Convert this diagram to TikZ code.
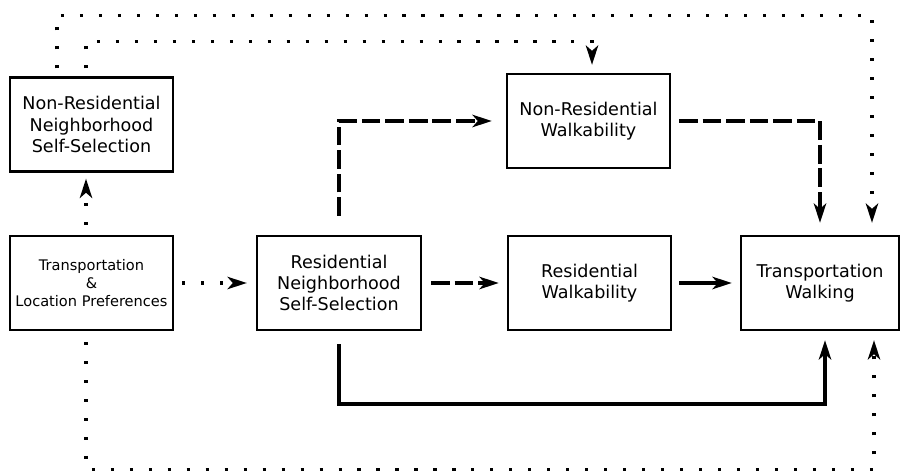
\documentclass[tikz,border=0pt]{standalone}
\usepackage{fontspec}
\setmainfont{DejaVu Sans}
\usepackage{tikz}
\usetikzlibrary{arrows.meta,positioning}

\tikzset{
  box/.style={draw, line width=1.3pt, minimum width=3.26cm, minimum height=1.88cm,
    align=center, inner sep=2pt, font=\fontsize{10}{12.2}\selectfont},
  arrowtip/.style={-{Stealth[length=11pt,width=7pt,inset=3pt]}},
  dotline/.style={arrowtip, line width=1.8pt, dash pattern=on 1.8pt off 9pt},
  dashline/.style={arrowtip, line width=2.4pt, dash pattern=on 10.6pt off 2.8pt},
  solidline/.style={arrowtip, line width=2.4pt},
}

\begin{document}
\begin{tikzpicture}[x=0.02cm, y=0.02cm]
\useasboundingbox (0,0) rectangle (902,470);
% Boxes
\node[box] (nrnss) at (91.5,345.5) {Non-Residential\\Neighborhood\\Self-Selection};
\node[box, font=\fontsize{8.3}{10.3}\selectfont] (tlp) at (91.5,187) {Transportation\\\&\\Location Preferences};
\node[box, minimum width=3.28cm] (rnss) at (339,187) {Residential\\Neighborhood\\Self-Selection};
\node[box] (rw) at (589.5,187) {Residential\\Walkability};
\node[box, minimum width=3.16cm] (tw) at (820,187) {Transportation\\Walking};
\node[box] (nrw) at (588.5,349) {Non-Residential\\Walkability};
% Dotted links
\draw[dotline, shorten <=0.2cm, shorten >=0.12cm] ([xshift=-0.11cm]tlp.north) -- ([xshift=-0.11cm]nrnss.south);
\draw[dotline, shorten <=0.16cm, shorten >=0.18cm] (tlp) -- (rnss);
\draw[dotline, shorten <=0.16cm, shorten >=0.24cm] ([xshift=-0.69cm]nrnss.north) -- ++(0,61) -| ([xshift=1.04cm]tw.north);
\draw[dotline, shorten <=0.16cm, shorten >=0.16cm] ([xshift=-0.11cm]nrnss.north) -- ++(0,35) -| ([xshift=0.07cm]nrw.north);
\draw[dotline, shorten <=0.22cm, shorten >=0.18cm] ([xshift=-0.11cm]tlp.south) -- ++(0,-138) -| ([xshift=1.08cm]tw.south);
% Dashed links
\draw[dashline, shorten <=0.18cm, shorten >=0.16cm] (rnss) -- (rw);
\draw[dashline, shorten <=0.38cm, shorten >=0.28cm] (rnss.north) |- (nrw.west);
\draw[dashline, shorten <=0.16cm, shorten >=0.24cm] (nrw.east) -| (tw.north);
% Solid links
\draw[solidline, shorten <=0.14cm, shorten >=0.16cm] (rw) -- (tw);
\draw[solidline, shorten <=0.26cm, shorten >=0.18cm] (rnss.south) -- ++(0,-73) -| ([xshift=0.1cm]tw.south);
\end{tikzpicture}
\end{document}
